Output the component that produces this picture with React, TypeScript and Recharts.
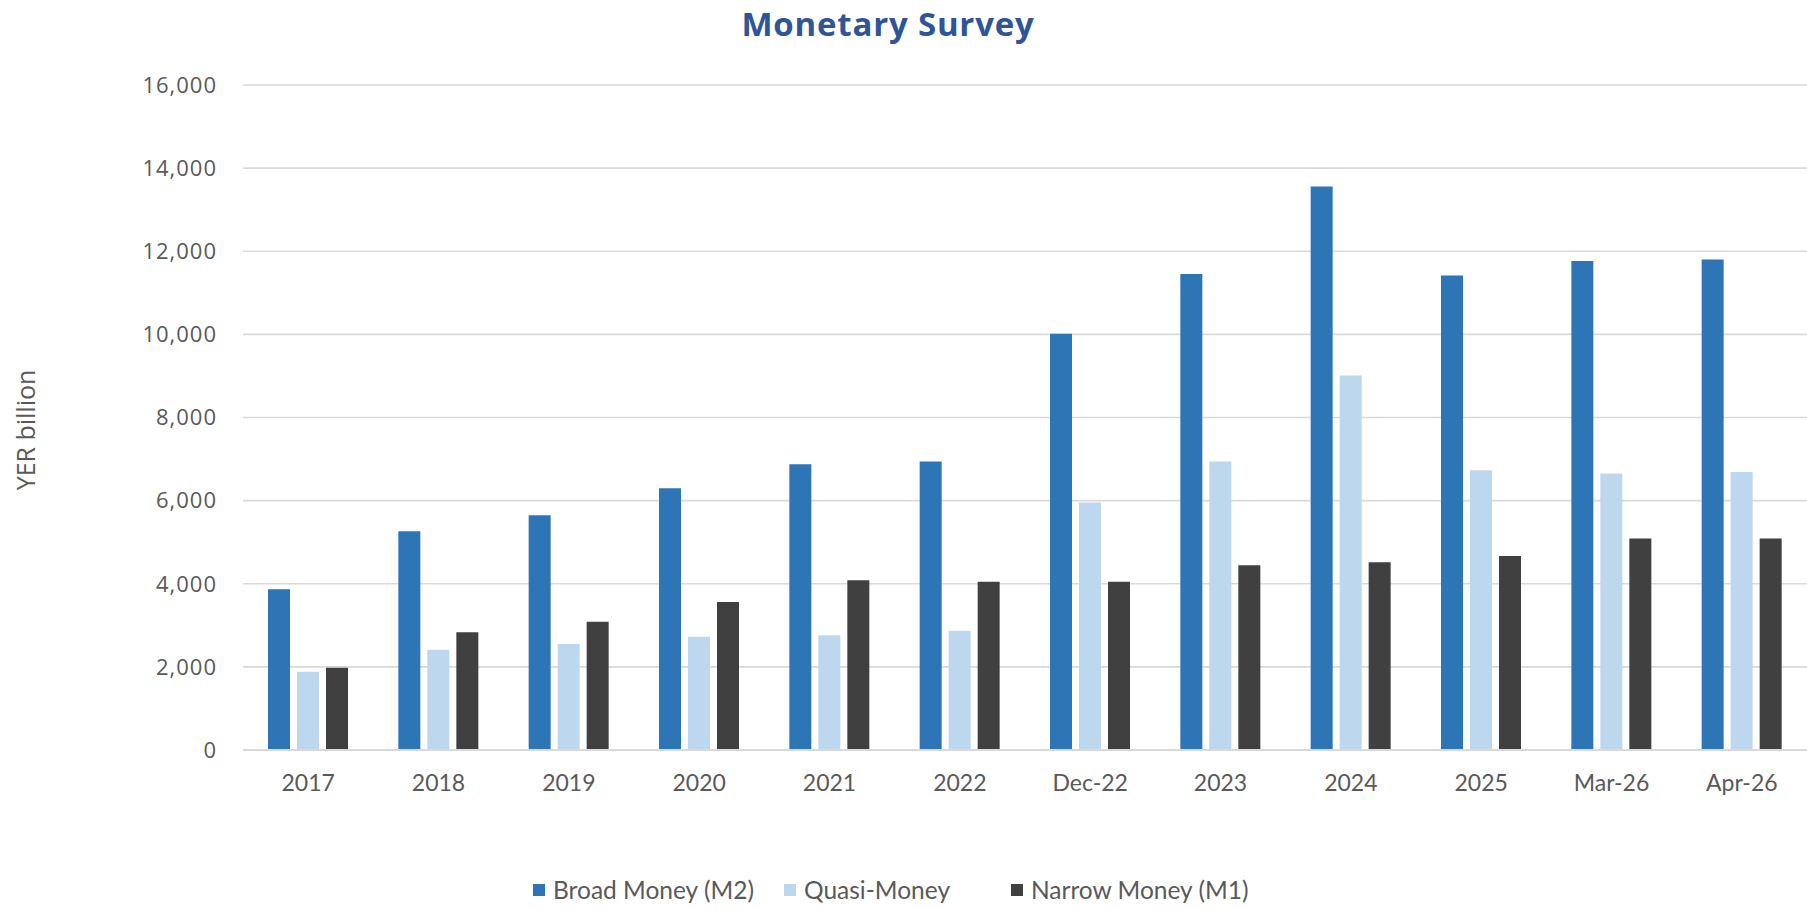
import React from 'react';
import { BarChart, Bar, XAxis, YAxis, CartesianGrid, Legend } from 'recharts';

const categories = ['2017', '2018', '2019', '2020', '2021', '2022', 'Dec-22', '2023', '2024', '2025', 'Mar-26', 'Apr-26'];
const broadMoney = [3870, 5265, 5650, 6295, 6875, 6940, 10015, 11450, 13560, 11415, 11765, 11800];
const quasiMoney = [1880, 2410, 2550, 2725, 2760, 2870, 5955, 6940, 9010, 6730, 6655, 6690];
const narrowMoney = [1980, 2835, 3085, 3560, 4085, 4050, 4050, 4445, 4520, 4665, 5090, 5090];
const yTicks = [0, 2000, 4000, 6000, 8000, 10000, 12000, 14000, 16000];

const seriesKeys = ['m2', 'quasi', 'm1'];
const seriesNames = ['Broad Money (M2)', 'Quasi-Money', 'Narrow Money (M1)'];
const seriesColors = ['#2E75B6', '#BDD7EE', '#404040'];

const data = categories.map((c, i) => ({
  name: c,
  m2: broadMoney[i],
  quasi: quasiMoney[i],
  m1: narrowMoney[i],
}));

const textColor = '#595959';
const legendWidths = [251, 227, 260];

const renderLegend = () => {
  return (
    <div style={{ display: 'flex', flexDirection: 'row', alignItems: 'center' }}>
      {seriesNames.map((name, i) => (
        <div
          key={name}
          style={{ width: legendWidths[i], display: 'flex', alignItems: 'center', whiteSpace: 'nowrap' }}
        >
          <span style={{ display: 'inline-block', width: 12, height: 12, background: seriesColors[i], marginRight: 8 }} />
          <span style={{ fontFamily: 'Lato', fontSize: 24.5, color: textColor }}>{name}</span>
        </div>
      ))}
    </div>
  );
};

export default function App() {
  return (
    <div style={{ position: 'absolute', left: 0, top: 0, width: 1807, height: 909, background: '#fff' }}>
      <svg width={1807} height={909} style={{ position: 'absolute', left: 0, top: 0 }}>
        <text
          x={888}
          y={36}
          textAnchor="middle"
          fontFamily="Open Sans"
          fontWeight={700}
          fontSize={33}
          letterSpacing={0.8}
          fill="#2F5597"
        >
          Monetary Survey
        </text>
        <text
          x={35}
          y={430}
          transform="rotate(-90 35 430)"
          textAnchor="middle"
          fontFamily="Open Sans"
          fontSize={25}
          fill={textColor}
        >
          YER billion
        </text>
      </svg>
      <div style={{ position: 'absolute', left: 0, top: 0 }}>
        <BarChart
          width={1807}
          height={909}
          data={data}
          margin={{ top: 85, right: 0, left: 0, bottom: 129 }}
          barSize={22}
          barGap={7}
        >
          <CartesianGrid vertical={false} stroke="#D9D9D9" strokeWidth={1.6} />
          <XAxis
            dataKey="name"
            height={30}
            tickLine={false}
            axisLine={{ stroke: '#D9D9D9', strokeWidth: 2 }}
            tickMargin={19}
            interval={0}
            tick={{ fontFamily: 'Lato', fontSize: 23, fill: textColor }}
          />
          <YAxis
            width={243}
            domain={[0, 16000]}
            ticks={yTicks}
            interval={0}
            axisLine={false}
            tickLine={false}
            tickMargin={20}
            tickFormatter={(v: number) => v.toLocaleString('en-US')}
            tick={{ fontFamily: 'Open Sans', fontSize: 22, fill: textColor, letterSpacing: 1 }}
          />
          <Legend
            layout="horizontal"
            verticalAlign="middle"
            align="center"
            wrapperStyle={{ left: 533, top: 875, width: 760 }}
            content={renderLegend}
          />
          {seriesKeys.map((k, i) => (
            <Bar key={k} dataKey={k} name={seriesNames[i]} fill={seriesColors[i]} isAnimationActive={false} />
          ))}
        </BarChart>
      </div>
    </div>
  );
}
